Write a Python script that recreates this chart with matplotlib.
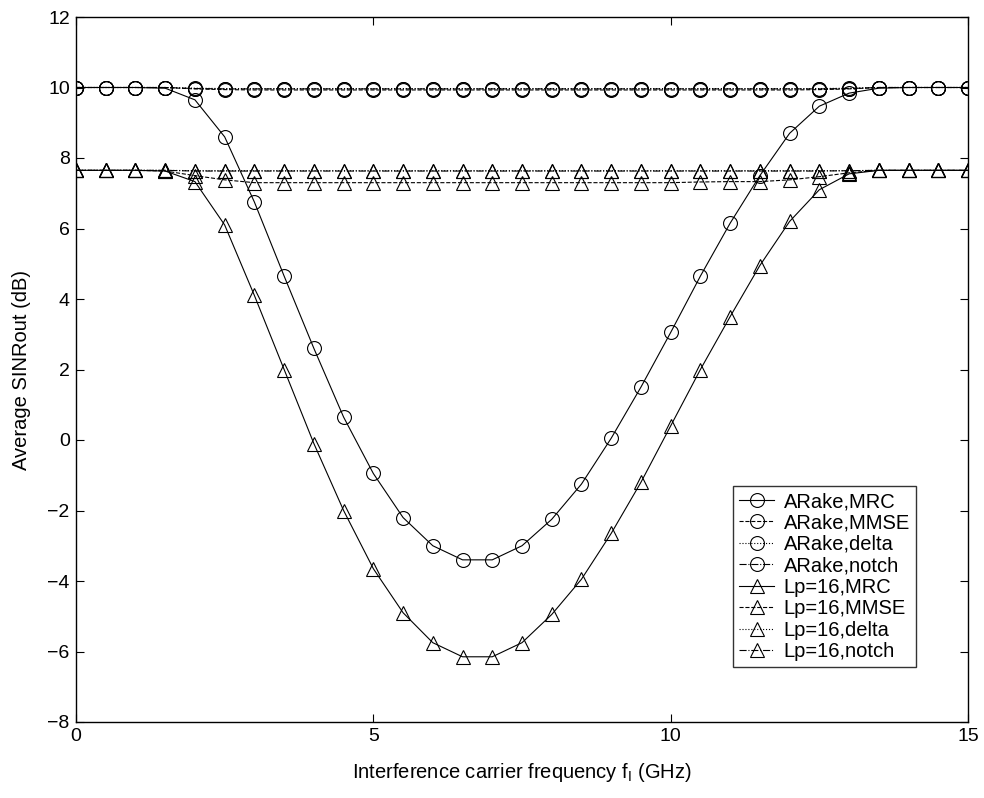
import matplotlib
matplotlib.use("Agg")
import matplotlib.pyplot as plt
import numpy as np

plt.rcParams['font.family'] = ['Liberation Sans', 'DejaVu Sans']
plt.rcParams['mathtext.fontset'] = 'custom'
plt.rcParams['mathtext.rm'] = 'Liberation Sans'
plt.rcParams['mathtext.it'] = 'Liberation Sans'

freq = [0, 0.5, 1, 1.5, 2, 2.5, 3, 3.5, 4, 4.5, 5, 5.5, 6, 6.5, 7, 7.5,
        8, 8.5, 9, 9.5, 10, 10.5, 11, 11.5, 12, 12.5, 13, 13.5, 14, 14.5, 15]

arake_mrc = [10, 10, 10, 9.98, 9.65, 8.6, 6.75, 4.65, 2.6, 0.65, -0.95, -2.2,
             -3.0, -3.4, -3.4, -3.0, -2.25, -1.25, 0.05, 1.5, 3.05, 4.65, 6.15,
             7.5, 8.7, 9.47, 9.84, 9.98, 10, 10, 10]
arake_mmse = [10, 10, 10, 10, 9.96, 9.94, 9.93, 9.93, 9.93, 9.93, 9.93, 9.93,
              9.93, 9.93, 9.93, 9.93, 9.93, 9.93, 9.93, 9.93, 9.93, 9.93, 9.93,
              9.93, 9.93, 9.94, 9.96, 10, 10, 10, 10]
arake_delta = [10, 10, 10, 10, 9.98, 9.97, 9.97, 9.97, 9.97, 9.97, 9.97, 9.97,
               9.97, 9.97, 9.97, 9.97, 9.97, 9.97, 9.97, 9.97, 9.97, 9.97, 9.97,
               9.97, 9.97, 9.97, 9.98, 10, 10, 10, 10]
arake_notch = [10, 10, 10, 10, 9.97, 9.96, 9.96, 9.96, 9.96, 9.96, 9.96, 9.96,
               9.96, 9.96, 9.96, 9.96, 9.96, 9.96, 9.96, 9.96, 9.96, 9.96, 9.96,
               9.96, 9.96, 9.96, 9.97, 10, 10, 10, 10]

lp_mrc = [7.65, 7.65, 7.65, 7.63, 7.33, 6.1, 4.1, 2.0, -0.1, -2.0, -3.65, -4.9,
          -5.75, -6.15, -6.15, -5.75, -4.95, -3.95, -2.65, -1.2, 0.4, 2.0, 3.5,
          4.95, 6.2, 7.1, 7.55, 7.65, 7.65, 7.65, 7.65]
lp_mmse = [7.65, 7.65, 7.65, 7.63, 7.5, 7.38, 7.3, 7.3, 7.3, 7.3, 7.3, 7.3,
           7.3, 7.3, 7.3, 7.3, 7.3, 7.3, 7.3, 7.3, 7.3, 7.32, 7.33, 7.33,
           7.38, 7.47, 7.58, 7.65, 7.65, 7.65, 7.65]
lp_delta = [7.65, 7.65, 7.65, 7.65, 7.64, 7.64, 7.64, 7.64, 7.64, 7.64, 7.64,
            7.64, 7.64, 7.64, 7.64, 7.64, 7.64, 7.64, 7.64, 7.64, 7.64, 7.64,
            7.64, 7.64, 7.64, 7.64, 7.64, 7.65, 7.65, 7.65, 7.65]
lp_notch = [7.65, 7.65, 7.65, 7.65, 7.63, 7.63, 7.63, 7.63, 7.63, 7.63, 7.63,
            7.63, 7.63, 7.63, 7.63, 7.63, 7.63, 7.63, 7.63, 7.63, 7.63, 7.63,
            7.63, 7.63, 7.63, 7.63, 7.64, 7.65, 7.65, 7.65, 7.65]

series = [
    (arake_mrc, 'o', '-', 'ARake,MRC'),
    (arake_mmse, 'o', '--', 'ARake,MMSE'),
    (arake_delta, 'o', ':', 'ARake,delta'),
    (arake_notch, 'o', '-.', 'ARake,notch'),
    (lp_mrc, '^', '-', 'Lp=16,MRC'),
    (lp_mmse, '^', '--', 'Lp=16,MMSE'),
    (lp_delta, '^', ':', 'Lp=16,delta'),
    (lp_notch, '^', '-.', 'Lp=16,notch'),
]

fig = plt.figure(figsize=(9.84, 7.98), dpi=100)
ax = fig.add_axes([76/984, 76/798, 892/984, 705/798])

for y, m, ls, lab in series:
    ax.plot(freq, y, color='black', linestyle=ls, linewidth=0.8,
            marker=m, markersize=10, markerfacecolor='none',
            markeredgecolor='black', markeredgewidth=0.8, label=lab)

ax.set_xlim(0, 15)
ax.set_ylim(-8, 12)
ax.set_xticks([0, 5, 10, 15])
ax.set_yticks(np.arange(-8, 13, 2))
ax.tick_params(direction='in', length=6, width=0.8, labelsize=14,
               top=True, right=True, pad=4.5)
for s in ax.spines.values():
    s.set_linewidth(1.0)

ax.set_xlabel('Interference carrier frequency f$_{\\mathrm{I}}$ (GHz)', fontsize=14.5, labelpad=11)
ax.set_ylabel('Average SINRout (dB)', fontsize=14.5, labelpad=12)

leg = ax.legend(loc='lower left', bbox_to_anchor=(0.737, 0.078), fontsize=14.5,
                frameon=True, fancybox=False, edgecolor='black',
                handlelength=1.7, handletextpad=0.5, labelspacing=0.12,
                borderpad=0.3, borderaxespad=0)
leg.get_frame().set_linewidth(1.0)

fig.savefig('out.png', dpi=100)
